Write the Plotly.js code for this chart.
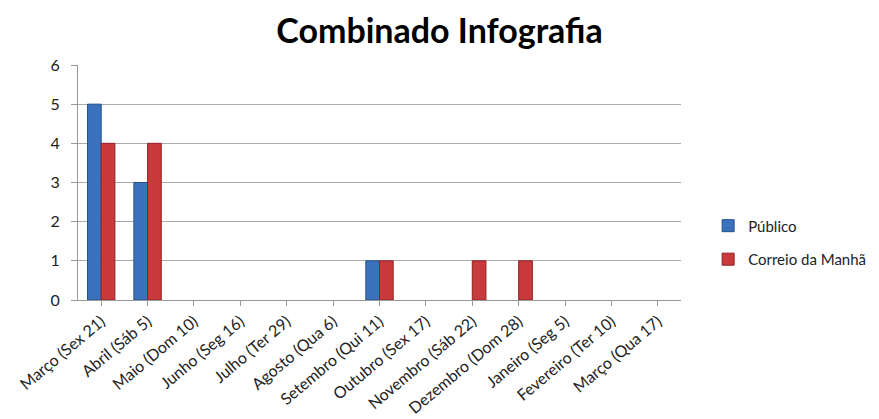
<!DOCTYPE html>
<html><head><meta charset="utf-8">
<script src="https://cdn.plot.ly/plotly-3.0.1.min.js"></script>
<style>body{margin:0;background:#fff}#c{width:879px;height:419px}</style>
</head><body><div id="c"></div>
<script>
var categories = ["Março (Sex 21)","Abril (Sáb 5)","Maio (Dom 10)","Junho (Seg 16)","Julho (Ter 29)","Agosto (Qua 6)","Setembro (Qui 11)","Outubro (Sex 17)","Novembro (Sáb 22)","Dezembro (Dom 28)","Janeiro (Seg 5)","Fevereiro (Ter 10)","Março (Qua 17)"];
var publico = [5,3,0,0,0,0,1,0,0,0,0,0,0];
var correio = [4,4,0,0,0,0,1,0,1,1,0,0,0];
var idx = categories.map(function(_, i){ return i; });
function lw(arr){ return arr.map(function(v){ return v ? 1 : 0; }); }

var traces = [
  {type:'bar', name:'Público', x:idx, y:publico, legendgroup:'a',
   marker:{color:'#3b72bd', line:{color:'#24508c', width:lw(publico)}}},
  {type:'bar', name:'Correio da Manhã', x:idx, y:correio, legendgroup:'b',
   marker:{color:'#c93a3c', line:{color:'#8e2224', width:lw(correio)}}}
];
var layout = {
  width:879, height:419,
  margin:{l:78, r:198, t:65, b:119, autoexpand:false},
  paper_bgcolor:'#fff', plot_bgcolor:'#fff',
  font:{family:'Lato, "Open Sans", sans-serif', color:'#222', size:15},
  title:{text:'<b>Combinado Infografia</b>', x:0.5, xanchor:'center', y:0.925, yanchor:'middle',
         font:{size:34, color:'#000', family:'Lato, "Open Sans", sans-serif'}},
  barmode:'group', bargap:0.41, bargroupgap:0,
  showlegend:true,
  legend:{x:1.045, y:0.245, xanchor:'left', yanchor:'middle', traceorder:'grouped', tracegroupgap:11,
          font:{size:15, color:'#222'}, itemwidth:30},
  xaxis:{tickmode:'array', tickvals:idx, ticktext:categories, range:[-0.5,12.5],
         tickangle:-40, ticks:'outside', tickson:'boundaries', ticklen:5, tickcolor:'#999',
         showline:true, linecolor:'#999', showgrid:false, zeroline:false, automargin:false,
         tickfont:{size:16, color:'#222'}},
  yaxis:{range:[0,6], dtick:1, ticks:'outside', ticklen:6, tickcolor:'#999', automargin:false,
         ticksuffix:'\u2002',
         showline:true, linecolor:'#999', showgrid:true, gridcolor:'#aaa', zeroline:false,
         tickfont:{size:16, color:'#222'}}
};
Plotly.newPlot('c', traces, layout, {displayModeBar:false});
</script></body></html>
